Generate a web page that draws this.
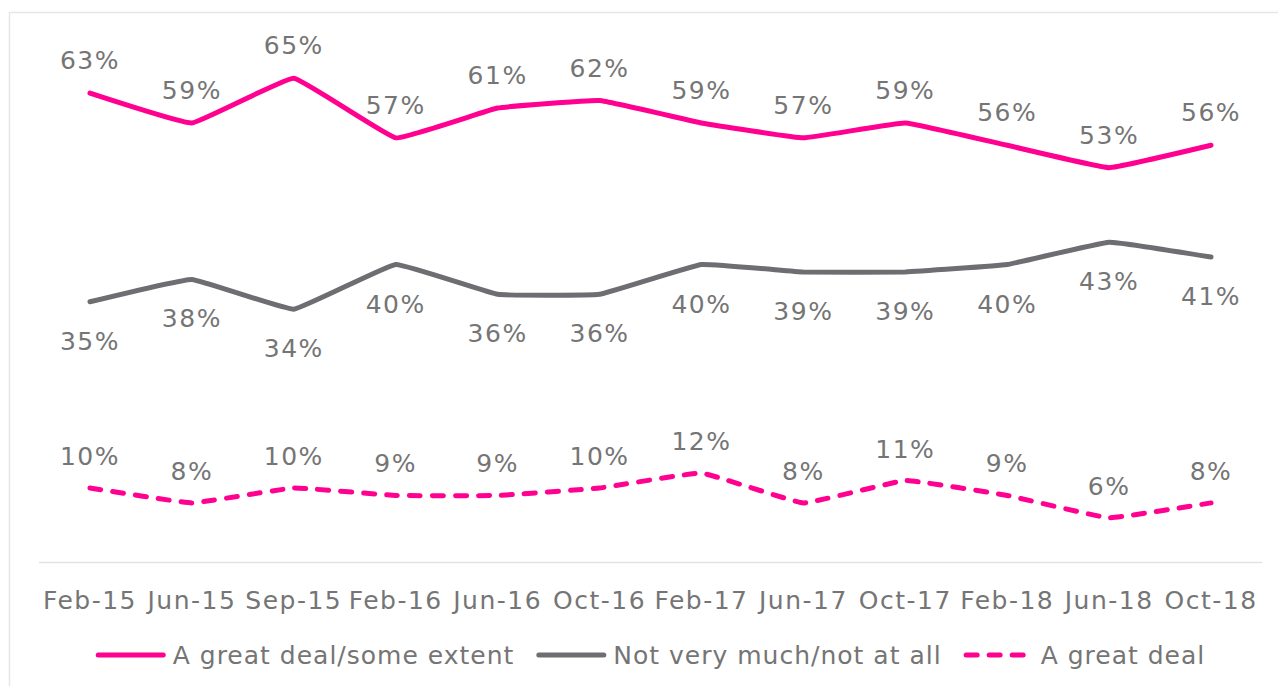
<!DOCTYPE html>
<html>
<head>
<meta charset="utf-8">
<script src="https://cdn.jsdelivr.net/npm/d3@7"></script>
<style>
  body { margin: 0; background: #fff; }
  text { font-family: Verdana, 'DejaVu Sans', sans-serif; fill: #757575; letter-spacing: 1.5px; }
  .legend text { letter-spacing: 1px; }
</style>
</head>
<body>
<div id="chart"></div>
<script>
const months = ['Feb-15', 'Jun-15', 'Sep-15', 'Feb-16', 'Jun-16', 'Oct-16', 'Feb-17', 'Jun-17', 'Oct-17', 'Feb-18', 'Jun-18', 'Oct-18']
const greatSome = [63, 59, 65, 57, 61, 62, 59, 57, 59, 56, 53, 56]
const notMuch = [35, 38, 34, 40, 36, 36, 40, 39, 39, 40, 43, 41]
const greatDeal = [10, 8, 10, 9, 9, 10, 12, 8, 11, 9, 6, 8]
const seriesNames = ['A great deal/some extent', 'Not very much/not at all', 'A great deal']

const width = 1278
const height = 686
const margin = { top: 41, left: 39, right: 16, bottom: 123.5 }

const pink = '#ff0090'
const grey = '#6d6e71'

const svg = d3
  .select('#chart')
  .append('svg')
  .attr('width', width)
  .attr('height', height)

// outer frame
svg
  .append('rect')
  .attr('x', 9.5)
  .attr('y', 12.5)
  .attr('width', width + 20)
  .attr('height', height + 20)
  .attr('fill', 'none')
  .attr('stroke', '#e6e6e6')
  .attr('stroke-width', 1.5)

const xScale = d3
  .scaleBand()
  .domain(months)
  .range([margin.left, width - margin.right])

const yScale = d3
  .scaleLinear()
  .domain([0, 70])
  .range([height - margin.bottom, margin.top])

const xPos = d => xScale(d) + xScale.bandwidth() / 2

// baseline
svg
  .append('line')
  .attr('x1', margin.left)
  .attr('x2', width - margin.right)
  .attr('y1', yScale(0))
  .attr('y2', yScale(0))
  .attr('stroke', '#e3e3e3')
  .attr('stroke-width', 1.5)

// category labels
svg
  .selectAll('.tick-label')
  .data(months)
  .enter()
  .append('text')
  .attr('class', 'tick-label')
  .attr('x', d => xPos(d))
  .attr('y', 609)
  .attr('text-anchor', 'middle')
  .attr('font-size', 25)
  .text(d => d)

const series = [
  { name: seriesNames[0], values: greatSome, color: pink, dash: null, labelDy: -24 },
  { name: seriesNames[1], values: notMuch, color: grey, dash: null, labelDy: 48 },
  { name: seriesNames[2], values: greatDeal, color: pink, dash: '11,12', labelDy: -23 }
]

const line = d3
  .line()
  .x((d, i) => xPos(months[i]))
  .y(d => yScale(d))
  .curve(d3.curveCardinal.tension(0.75))

series.forEach(function(s) {
  svg
    .append('path')
    .datum(s.values)
    .attr('d', line)
    .attr('fill', 'none')
    .attr('stroke', s.color)
    .attr('stroke-width', 5)
    .attr('stroke-linecap', 'round')
    .attr('stroke-linejoin', 'round')
    .attr('stroke-dasharray', s.dash)

  svg
    .selectAll('.label-' + s.name.length)
    .data(s.values)
    .enter()
    .append('text')
    .attr('x', (d, i) => xPos(months[i]))
    .attr('y', d => yScale(d) + s.labelDy)
    .attr('text-anchor', 'middle')
    .attr('font-size', 25)
    .text(d => d + '%')
})

// legend
const legend = svg.append('g').attr('class', 'legend')
const sampleW = 70
let cursor = 0
series.forEach(function(s, i) {
  const g = legend.append('g').attr('transform', `translate(${cursor},0)`)
  g.append('line')
    .attr('x1', 2.5)
    .attr('x2', sampleW - 2.5)
    .attr('y1', 0)
    .attr('y2', 0)
    .attr('stroke', s.color)
    .attr('stroke-width', 5)
    .attr('stroke-linecap', 'round')
    .attr('stroke-dasharray', s.dash)
  const t = g
    .append('text')
    .attr('x', sampleW + 7)
    .attr('y', 9)
    .attr('font-size', 25)
    .text(s.name)
  cursor += sampleW + 7 + t.node().getComputedTextLength() + 22
})
cursor -= 22
const center = (margin.left + width - margin.right) / 2
legend.attr('transform', `translate(${center - cursor / 2},655)`)
</script>
</body>
</html>
